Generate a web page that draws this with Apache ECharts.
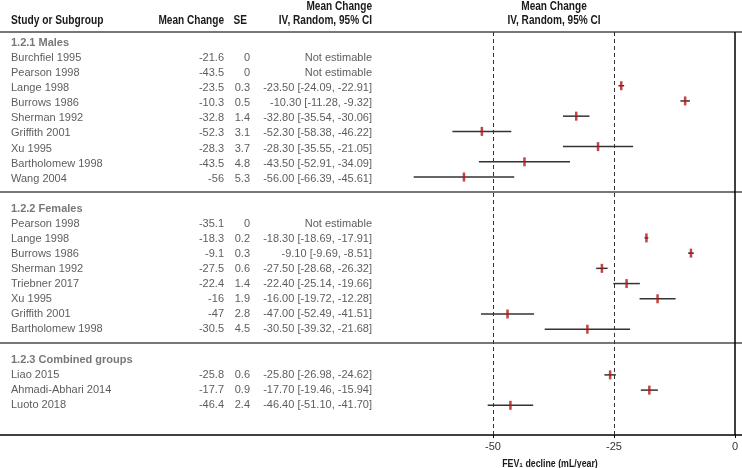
<!DOCTYPE html>
<html><head><meta charset="utf-8">
<script src="https://cdn.jsdelivr.net/npm/echarts@6/dist/echarts.min.js"></script>
<style>html,body{margin:0;padding:0;background:#fff}#c{width:742px;height:468px}</style>
</head><body><div id="c"></div>
<script>
// ---------- data ----------
const groupTitles = ['1.2.1 Males', '1.2.2 Females', '1.2.3 Combined groups'];

const maleNames = ['Burchfiel 1995','Pearson 1998','Lange 1998','Burrows 1986','Sherman 1992','Griffith 2001','Xu 1995','Bartholomew 1998','Wang 2004'];
const maleMean  = [-21.6, -43.5, -23.5, -10.3, -32.8, -52.3, -28.3, -43.5, -56];
const maleSE    = [0, 0, 0.3, 0.5, 1.4, 3.1, 3.7, 4.8, 5.3];
const maleLo    = [null, null, -24.09, -11.28, -35.54, -58.38, -35.55, -52.91, -66.39];
const maleHi    = [null, null, -22.91, -9.32, -30.06, -46.22, -21.05, -34.09, -45.61];

const femaleNames = ['Pearson 1998','Lange 1998','Burrows 1986','Sherman 1992','Triebner 2017','Xu 1995','Griffith 2001','Bartholomew 1998'];
const femaleMean  = [-35.1, -18.3, -9.1, -27.5, -22.4, -16, -47, -30.5];
const femaleSE    = [0, 0.2, 0.3, 0.6, 1.4, 1.9, 2.8, 4.5];
const femaleLo    = [null, -18.69, -9.69, -28.68, -25.14, -19.72, -52.49, -39.32];
const femaleHi    = [null, -17.91, -8.51, -26.32, -19.66, -12.28, -41.51, -21.68];

const combNames = ['Liao 2015','Ahmadi-Abhari 2014','Luoto 2018'];
const combMean  = [-25.8, -17.7, -46.4];
const combSE    = [0.6, 0.9, 2.4];
const combLo    = [-26.98, -19.46, -51.10];
const combHi    = [-24.62, -15.94, -41.70];

const xTickValues = [-50, -25, 0];
const dashedRefs = [-50, -25];
const nullLine = 0;
const axisTitle = 'FEV\u2081 decline (mL/year)';

// ---------- build ----------
const groups = [
  {title: groupTitles[0], names: maleNames, mean: maleMean, se: maleSE, lo: maleLo, hi: maleHi},
  {title: groupTitles[1], names: femaleNames, mean: femaleMean, se: femaleSE, lo: femaleLo, hi: femaleHi},
  {title: groupTitles[2], names: combNames, mean: combMean, se: combSE, lo: combLo, hi: combHi}
];
const COL_NAME = 11, COL_MEAN = 224, COL_SE = 250, COL_CI = 372, COL_PLOT = 554;
const headData = [], nameData = [], meanData = [], seData = [], ciData = [], markerData = [], ciLineData = [], sepRows = [];
let row = 0;
groups.forEach((g, gi) => {
  headData.push([COL_NAME, row, g.title]);
  row++;
  g.names.forEach((n, i) => {
    nameData.push([COL_NAME, row, n]);
    meanData.push([COL_MEAN, row, String(g.mean[i])]);
    seData.push([COL_SE, row, String(g.se[i])]);
    const est = g.lo[i] != null;
    ciData.push([COL_CI, row, est ? g.mean[i].toFixed(2) + ' [' + g.lo[i].toFixed(2) + ', ' + g.hi[i].toFixed(2) + ']' : 'Not estimable']);
    if (est) { markerData.push([g.mean[i], row]); ciLineData.push([g.lo[i], g.hi[i], row]); }
    row++;
  });
  if (gi < groups.length - 1) sepRows.push(row - 0.1);
  row++;
});

const H1 = -2.39, H2 = -1.46, TITLE_ROW = 27.9;
const hdrData = [
  [COL_NAME, H2, 'Study or Subgroup', 'left', 12, 0.85],
  [COL_MEAN, H2, 'Mean Change', 'right', 12, 0.84],
  [247, H2, 'SE', 'right', 12, 0.84],
  [COL_CI, H1, 'Mean Change', 'right', 12, 0.84],
  [COL_CI, H2, 'IV, Random, 95% CI', 'right', 12, 0.84],
  [COL_PLOT, H1, 'Mean Change', 'center', 12, 0.84],
  [COL_PLOT, H2, 'IV, Random, 95% CI', 'center', 12, 0.84],
  [550, TITLE_ROW, axisTitle, 'center', 11, 0.8]
];

const FONT = '"Liberation Sans", Arial, sans-serif';

function textSeries(data, align, opts) {
  opts = opts || {};
  return {
    type: 'scatter', xAxisIndex: 0, yAxisIndex: 0, data: data, symbolSize: 0, silent: true, clip: false,
    label: {
      show: true,
      position: align === 'right' ? 'left' : 'right',
      distance: 0,
      formatter: p => p.data[2],
      color: opts.color || '#333',
      fontSize: opts.size || 11,
      fontWeight: opts.bold ? 'bold' : 'normal',
      fontFamily: FONT
    }
  };
}

const chart = echarts.init(document.getElementById('c'), null, {renderer: 'canvas'});
chart.setOption({
  animation: false,
  backgroundColor: '#fff',
  grid: [
    {left: 0, right: 0, top: 0, height: 435, containLabel: false},
    {left: 372, right: 7, top: 32, height: 403, containLabel: false}
  ],
  xAxis: [
    {gridIndex: 0, type: 'value', min: 0, max: 742, show: true, position: 'bottom',
     axisLine: {show: true, onZero: false, lineStyle: {color: '#000', width: 1.5}}, axisTick: {show: false}, axisLabel: {show: false}, splitLine: {show: false}},
    {gridIndex: 1, type: 'value', min: -75, max: 0, interval: 25, position: 'bottom',
     axisLine: {show: false, onZero: false},
     axisTick: {show: true, customValues: xTickValues, length: 3, lineStyle: {color: '#000'}},
     axisLabel: {show: true, customValues: xTickValues, color: '#333', fontSize: 11, fontFamily: FONT, margin: 6},
     splitLine: {show: false}}
  ],
  yAxis: [
    {gridIndex: 0, type: 'value', inverse: true, min: -2.85, max: 26, show: false},
    {gridIndex: 1, type: 'value', inverse: true, min: -0.53, max: 25.95, show: false}
  ],
  series: [
    {
      type: 'custom', xAxisIndex: 0, yAxisIndex: 0, data: hdrData.map(d => [d[0], d[1]]), silent: true, clip: false,
      renderItem: function (params, api) {
        const d = hdrData[params.dataIndex];
        const p = api.coord([d[0], d[1]]);
        return {type: 'text', x: p[0], y: p[1], scaleX: d[5],
          style: {text: d[2], align: d[3], verticalAlign: 'middle', fill: '#1a1a1a', font: 'bold ' + d[4] + 'px "Liberation Sans", Arial, sans-serif'}};
      }
    },
    textSeries(headData, 'left', {bold: true, color: '#555'}),
    textSeries(nameData, 'left'),
    textSeries(meanData, 'right'),
    textSeries(seData, 'right'),
    Object.assign(textSeries(ciData, 'right'), {
      markLine: {
        silent: true, symbol: 'none', label: {show: false},
        lineStyle: {color: '#777', width: 2, type: 'solid'},
        data: [{yAxis: -0.73}].concat(sepRows.map(r => ({yAxis: r})))
      }
    }),
    {
      type: 'custom', xAxisIndex: 1, yAxisIndex: 1, data: ciLineData, silent: true, z: 3,
      encode: {x: [0, 1], y: 2},
      renderItem: function (params, api) {
        const a = api.coord([api.value(0), api.value(2)]);
        const b = api.coord([api.value(1), api.value(2)]);
        return {type: 'line', shape: {x1: a[0], y1: a[1], x2: b[0], y2: b[1]}, style: {stroke: '#333', lineWidth: 1.5}};
      }
    },
    {
      type: 'scatter', xAxisIndex: 1, yAxisIndex: 1, data: markerData, silent: true, z: 4,
      symbol: 'rect', symbolSize: [2.5, 9], itemStyle: {color: '#b31515'},
      markLine: {
        silent: true, symbol: 'none', label: {show: false},
        data: dashedRefs.map(v => ({xAxis: v, lineStyle: {color: '#333', width: 1, type: [4, 3]}}))
          .concat([{xAxis: nullLine, lineStyle: {color: '#000', width: 1.5, type: 'solid'}}])
      }
    }
  ]
});
</script></body></html>
